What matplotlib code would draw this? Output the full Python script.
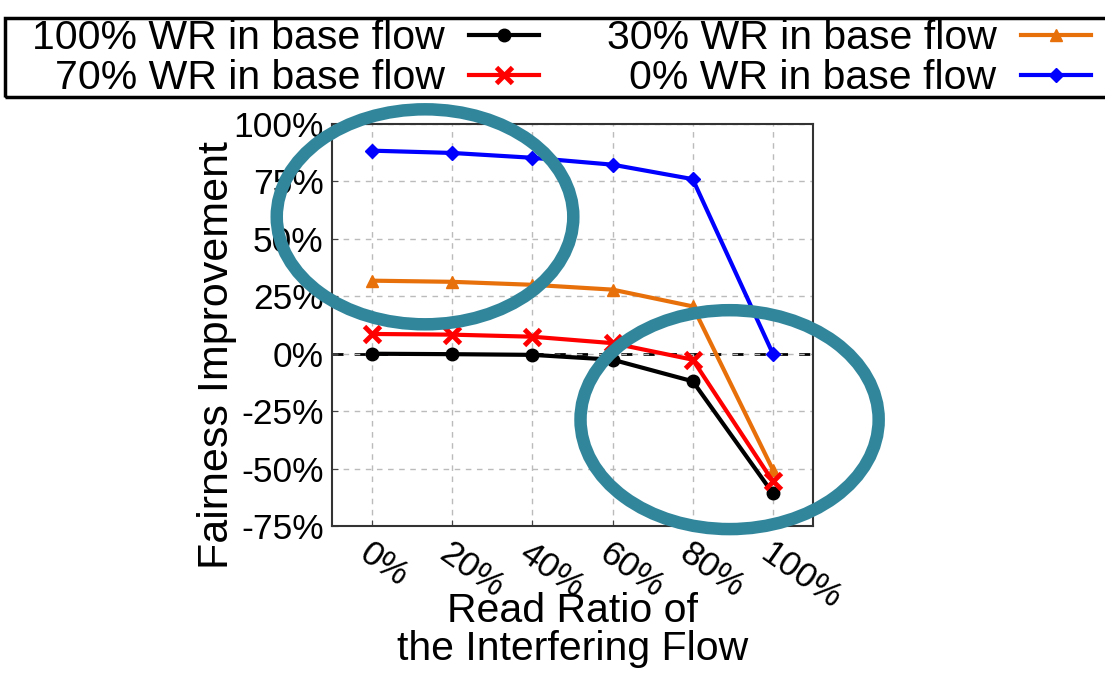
import matplotlib
matplotlib.use('Agg')
import matplotlib.pyplot as plt
from matplotlib.patches import Ellipse, Rectangle
import numpy as np

plt.rcParams['font.family'] = ['Liberation Sans', 'DejaVu Sans']

read_ratio = ['0%', '20%', '40%', '60%', '80%', '100%']
wr100 = [0.0, -0.2, -0.5, -2.6, -12.0, -60.8]
wr70 = [8.6, 8.3, 7.4, 4.6, -2.6, -55.6]
wr30 = [31.8, 31.3, 30.0, 27.9, 20.6, -50.5]
wr0 = [88.4, 87.4, 85.3, 82.3, 76.0, 0.0]
yticks = [-75, -50, -25, 0, 25, 50, 75, 100]

W, H = 1105, 674
fig = plt.figure(figsize=(W / 100, H / 100), dpi=100)
ax = fig.add_axes([0.3005, 0.2196, 0.4352, 0.5964])

x = np.arange(len(read_ratio))
ax.axhline(0, color='black', lw=2, ls=(0, (4, 4)), zorder=1)
l1, = ax.plot(x, wr100, color='black', lw=3, marker='o', ms=9, label='100% WR in base flow', zorder=3)
l2, = ax.plot(x, wr70, color='red', lw=3, marker='x', ms=11, mew=3.5, label='70% WR in base flow', zorder=3)
l3, = ax.plot(x, wr30, color='#E8700A', lw=3, marker='^', ms=8, label='30% WR in base flow', zorder=2)
l4, = ax.plot(x, wr0, color='blue', lw=3, marker='D', ms=7, label='0% WR in base flow', zorder=2)

ax.set_xlim(-0.5, 5.5)
ax.set_ylim(-75, 100)
ax.set_yticks(yticks)
ax.set_yticklabels([f'{v}%' for v in yticks], fontsize=25.5)
ax.set_xticks(x)
ax.set_xticklabels(read_ratio, fontsize=25.5, rotation=-35, ha='left', va='top', rotation_mode='anchor')
ax.tick_params(direction='in', length=4, color='#444444', pad=8)
ax.tick_params(axis='y', pad=6)
ax.grid(True, color='#BBBBBB', ls=(0, (4, 4)), lw=1)
for s in ax.spines.values():
    s.set_color('#333333')
    s.set_linewidth(1.5)

ax.set_ylabel('Fairness Improvement', fontsize=31)
ax.yaxis.set_label_coords(-0.197, 0.425)
ax.set_xlabel('Read Ratio of\nthe Interfering Flow', fontsize=29.5, linespacing=0.98)
ax.xaxis.set_label_coords(0.5, -0.165)

# highlight ellipses
teal = '#32869C'
ax.add_patch(Ellipse((0.66, 59.6), 3.7, 93.6, fill=False, ec=teal, lw=9, clip_on=False, zorder=5))
ax.add_patch(Ellipse((4.46, -28.7), 3.72, 95.3, fill=False, ec=teal, lw=9, clip_on=False, zorder=5))

# legend, with its box drawn separately (wider side padding than top/bottom)
leg = fig.legend(handles=[l1, l2, l3, l4], ncol=2, loc='upper left',
                 bbox_to_anchor=(28 / W, 1 - 15 / H), borderaxespad=0, markerfirst=False,
                 fontsize=29.5, handlelength=1.7, handletextpad=0.6, columnspacing=1.65,
                 labelspacing=0.05, borderpad=0.1, frameon=False)
fig.patches.append(Rectangle((5 / W, 1 - 97 / H), 1110 / W, 79 / H, transform=fig.transFigure,
                             fill=False, ec='black', lw=2.5))

fig.savefig('out.png', dpi=100)
